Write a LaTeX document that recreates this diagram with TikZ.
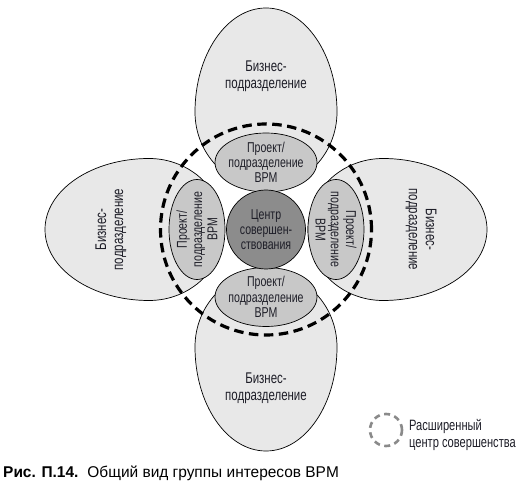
\documentclass[tikz,border=0pt]{standalone}
\usepackage{fontspec}
\setmainfont{Liberation Sans}[FakeStretch=0.74]
\newfontfamily\capfont{Liberation Sans}[FakeStretch=0.99]
\usetikzlibrary{shapes.geometric}
\definecolor{bizfill}{HTML}{E8E8E8}
\definecolor{projfill}{HTML}{C8C8C8}
\definecolor{cenfill}{HTML}{8C8C8C}
\definecolor{txt}{HTML}{1E1E28}
\definecolor{leggray}{HTML}{8A8A8A}
\tikzset{
  bizegg/.style={draw=black, line width=0.7pt, fill=bizfill},
  bigtext/.style={align=center, text=txt, font=\fontsize{15.5}{17}\selectfont, inner sep=0pt},
  projell/.style={ellipse, draw=black, line width=0.7pt, fill=projfill, inner sep=0pt},
  projtext/.style={align=center, text=txt, font=\fontsize{14.3}{15.3}\selectfont, inner sep=0pt},
  extcircle/.style={circle, draw=black, line width=3.2pt, dash pattern=on 9.5pt off 5.5pt, minimum size=211pt, inner sep=0pt},
}
\begin{document}
\begin{tikzpicture}[x=1pt,y=1pt]
\useasboundingbox (0,0) rectangle (528,-497);
\fill[white] (0,0) rectangle (528,-497);
\coordinate (C) at (266,-229.5);
% business units (egg shapes)
\draw[bizegg] (195,-112) arc[start angle=180,end angle=0,x radius=71,y radius=104]
  arc[start angle=0,end angle=-180,x radius=71,y radius=75] -- cycle;
\draw[bizegg] (337,-347) arc[start angle=0,end angle=-180,x radius=71,y radius=104]
  arc[start angle=180,end angle=0,x radius=71,y radius=75] -- cycle;
\draw[bizegg] (149,-158.5) arc[start angle=90,end angle=270,x radius=104,y radius=71]
  arc[start angle=270,end angle=450,x radius=75,y radius=71] -- cycle;
\draw[bizegg] (383,-300.5) arc[start angle=-90,end angle=90,x radius=104,y radius=71]
  arc[start angle=90,end angle=270,x radius=75,y radius=71] -- cycle;
\node[bigtext] (bt) at (266,-76) {Бизнес-\\подразделение};
\node[bigtext] (bb) at (266,-388) {Бизнес-\\подразделение};
\node[bigtext, rotate=90] (bl) at (111,-229.5) {Бизнес-\\подразделение};
\node[bigtext, rotate=-90] (br) at (421,-229.5) {Бизнес-\\подразделение};
% project ellipses
\node[projell, minimum width=102pt, minimum height=59pt] (pt) at (266,-162.5) {};
\node[projell, minimum width=102pt, minimum height=59pt] (pb) at (266,-297) {};
\node[projell, minimum width=56pt, minimum height=100pt] (pl) at (197,-229.5) {};
\node[projell, minimum width=56pt, minimum height=100pt] (pr) at (336,-229.5) {};
\node[projtext] (ptt) at (pt) {Проект/\\подразделение\\BPM};
\node[projtext] (pbt) at (pb) {Проект/\\подразделение\\BPM};
\node[projtext, rotate=90] (plt) at (pl) {Проект/\\подразделение\\BPM};
\node[projtext, rotate=-90] (prt) at (pr) {Проект/\\подразделение\\BPM};
% centre
\node[circle, draw=black, line width=0.7pt, fill=cenfill, minimum size=79pt, inner sep=0pt, projtext] (cen) at (C) {Центр\\совершен-\\ствования};
% extended centre
\node[extcircle] (ext) at (C) {};
% legend
\node[circle, draw=leggray, line width=2.6pt, dash pattern=on 6pt off 4.5pt, minimum size=32pt, inner sep=0pt] (leg) at (386,-430) {};
\node[anchor=west, align=left, text=txt, font=\fontsize{15}{17}\selectfont, inner sep=0pt] (legt) at (409,-435) {Расширенный\\центр совершенства};
% caption
\node[anchor=base west, inner sep=0pt, font=\capfont\fontsize{15.6}{18}\selectfont, text=black] (cap) at (3,-477.7) {\textbf{Рис. П.14.}\hspace{9pt}Общий вид группы интересов BPM};
\end{tikzpicture}
\end{document}
